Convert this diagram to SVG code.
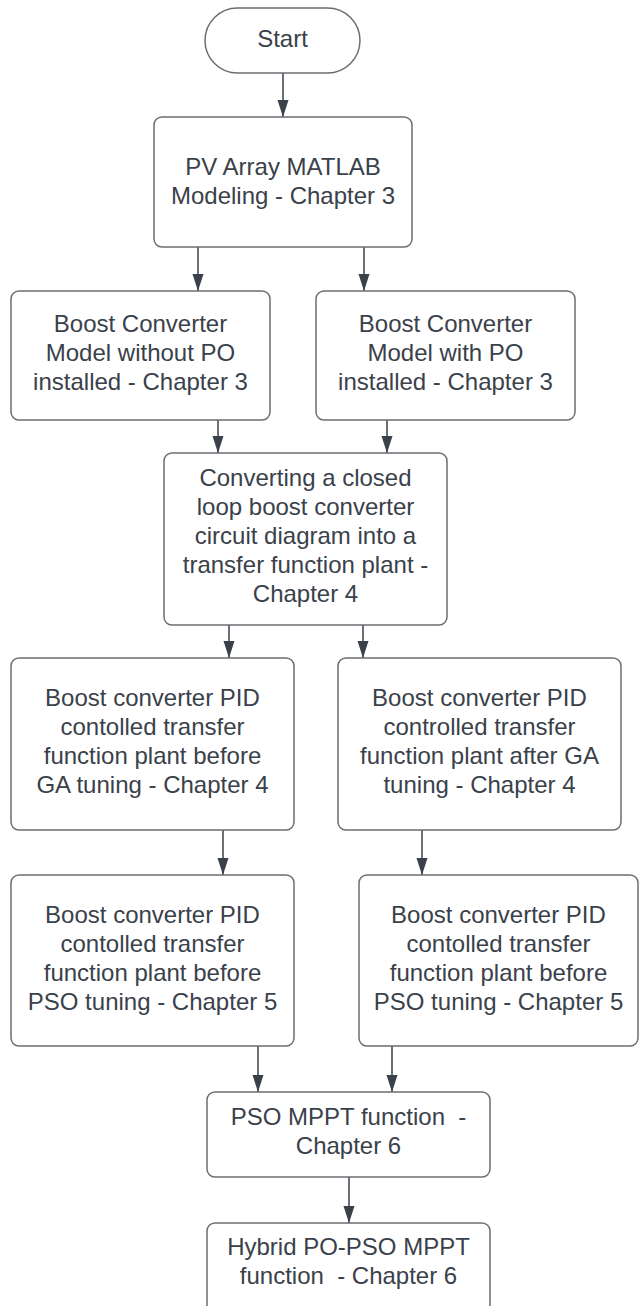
<svg xmlns="http://www.w3.org/2000/svg" width="639" height="1306" viewBox="0 0 639 1306">
  <defs>
    <style>
      .box { fill: #ffffff; stroke: #6b6e73; stroke-width: 1.5; }
      .lbl { font-family: "Liberation Sans", Arial, sans-serif; font-size: 24px; fill: #3a414a; text-anchor: middle; }
      .edge { stroke: #3a414a; stroke-width: 1.5; fill: none; marker-end: url(#arrow); }
    </style>
    <!-- slim filled arrowhead, tip sits on the line end -->
    <marker id="arrow" markerUnits="userSpaceOnUse" markerWidth="17" markerHeight="12" viewBox="0 0 17 12" refX="17" refY="6" orient="auto">
      <path d="M0,0.5 L17,6 L0,11.5 Z" fill="#3a414a"/>
    </marker>
  </defs>
  <rect width="639" height="1306" fill="#ffffff"/>

  <!-- connectors -->
  <g id="connectors">
    <line class="edge" x1="283" y1="73" x2="283" y2="117"/>
    <line class="edge" x1="198" y1="247" x2="198" y2="291"/>
    <line class="edge" x1="364" y1="247" x2="364" y2="291"/>
    <line class="edge" x1="218" y1="420" x2="218" y2="453"/>
    <line class="edge" x1="387" y1="420" x2="387" y2="453"/>
    <line class="edge" x1="229" y1="625" x2="229" y2="658"/>
    <line class="edge" x1="363" y1="625" x2="363" y2="658"/>
    <line class="edge" x1="223" y1="830" x2="223" y2="875"/>
    <line class="edge" x1="422" y1="830" x2="422" y2="875"/>
    <line class="edge" x1="258" y1="1046" x2="258" y2="1092"/>
    <line class="edge" x1="392" y1="1046" x2="392" y2="1092"/>
    <line class="edge" x1="349" y1="1177" x2="349" y2="1223"/>
  </g>

  <g id="start">
    <rect class="box" x="205" y="8" width="155" height="65" rx="32.5"/>
    <text class="lbl" x="282.5" y="47">Start</text>
  </g>

  <g id="pv-model">
    <rect class="box" x="154" y="117" width="258" height="130" rx="8"/>
    <text class="lbl" x="283" y="175">PV Array MATLAB</text>
    <text class="lbl" x="283" y="204">Modeling - Chapter 3</text>
  </g>

  <g id="boost-no-po">
    <rect class="box" x="11" y="291" width="259" height="129" rx="8"/>
    <text class="lbl" x="140.5" y="332">Boost Converter</text>
    <text class="lbl" x="140.5" y="361">Model without PO</text>
    <text class="lbl" x="140.5" y="390">installed - Chapter 3</text>
  </g>

  <g id="boost-po">
    <rect class="box" x="316" y="291" width="259" height="129" rx="8"/>
    <text class="lbl" x="445.5" y="332">Boost Converter</text>
    <text class="lbl" x="445.5" y="361">Model with PO</text>
    <text class="lbl" x="445.5" y="390">installed - Chapter 3</text>
  </g>

  <g id="tf-plant">
    <rect class="box" x="164" y="453" width="283" height="172" rx="8"/>
    <text class="lbl" x="305.5" y="486">Converting a closed</text>
    <text class="lbl" x="305.5" y="515">loop boost converter</text>
    <text class="lbl" x="305.5" y="544">circuit diagram into a</text>
    <text class="lbl" x="305.5" y="573">transfer function plant -</text>
    <text class="lbl" x="305.5" y="602">Chapter 4</text>
  </g>

  <g id="pid-before-ga">
    <rect class="box" x="11" y="658" width="283" height="172" rx="8"/>
    <text class="lbl" x="152.5" y="706">Boost converter PID</text>
    <text class="lbl" x="152.5" y="735">contolled transfer</text>
    <text class="lbl" x="152.5" y="764">function plant before</text>
    <text class="lbl" x="152.5" y="793">GA tuning - Chapter 4</text>
  </g>

  <g id="pid-after-ga">
    <rect class="box" x="338" y="658" width="283" height="172" rx="8"/>
    <text class="lbl" x="479.5" y="706">Boost converter PID</text>
    <text class="lbl" x="479.5" y="735">controlled transfer</text>
    <text class="lbl" x="479.5" y="764">function plant after GA</text>
    <text class="lbl" x="479.5" y="793">tuning - Chapter 4</text>
  </g>

  <g id="pid-before-pso-left">
    <rect class="box" x="11" y="875" width="283" height="171" rx="8"/>
    <text class="lbl" x="152.5" y="923">Boost converter PID</text>
    <text class="lbl" x="152.5" y="952">contolled transfer</text>
    <text class="lbl" x="152.5" y="981">function plant before</text>
    <text class="lbl" x="152.5" y="1010">PSO tuning - Chapter 5</text>
  </g>

  <g id="pid-before-pso-right">
    <rect class="box" x="359" y="875" width="279" height="171" rx="8"/>
    <text class="lbl" x="498.5" y="923">Boost converter PID</text>
    <text class="lbl" x="498.5" y="952">contolled transfer</text>
    <text class="lbl" x="498.5" y="981">function plant before</text>
    <text class="lbl" x="498.5" y="1010">PSO tuning - Chapter 5</text>
  </g>

  <g id="pso-mppt">
    <rect class="box" x="207" y="1092" width="283" height="85" rx="8"/>
    <text class="lbl" x="348.5" y="1125" xml:space="preserve">PSO MPPT function  -</text>
    <text class="lbl" x="348.5" y="1154">Chapter 6</text>
  </g>

  <g id="hybrid-mppt">
    <rect class="box" x="207" y="1223" width="283" height="90" rx="8"/>
    <text class="lbl" x="348.5" y="1255">Hybrid PO-PSO MPPT</text>
    <text class="lbl" x="348.5" y="1284" xml:space="preserve">function  - Chapter 6</text>
  </g>
</svg>
